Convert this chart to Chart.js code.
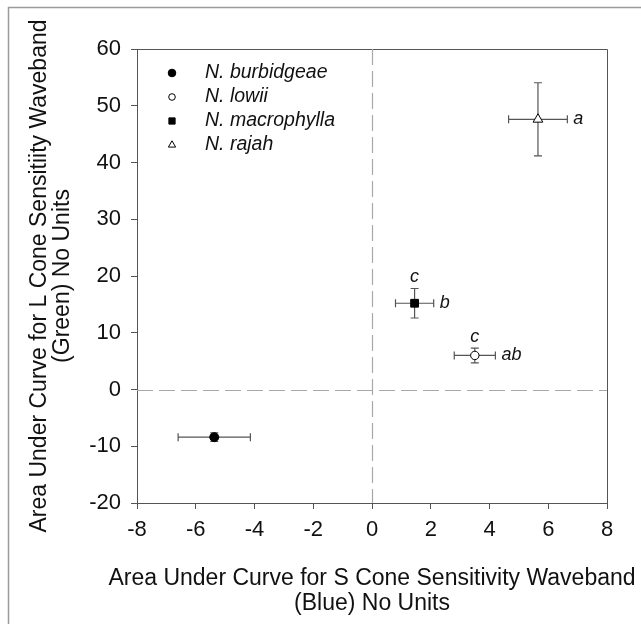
<!DOCTYPE html>
<html><head><meta charset="utf-8">
<script src="https://cdn.jsdelivr.net/npm/chart.js@4/dist/chart.umd.min.js"></script>
<style>html,body{margin:0;padding:0;background:#fff;overflow:hidden}#wrap{width:641px;height:624px;position:relative}canvas{display:block}</style>
</head><body><div id="wrap"><canvas id="c" width="641" height="624"></canvas></div>
<script>
// ---- data ----
const species = ['N. burbidgeae', 'N. lowii', 'N. macrophylla', 'N. rajah'];
const sValues = [-5.37, 3.5, 1.45, 5.65];   // x: S cone (blue) area
const lValues = [-8.4, 6.0, 15.2, 47.6];    // y: L cone (green) area
const sErr = [1.23, 0.7, 0.65, 1.0];
const lErr = [0.74, 1.3, 2.6, 6.45];
const rightLetters = ['', 'ab', 'b', 'a'];
const topLetters = ['', 'c', 'c', ''];
const xTicks = [-8, -6, -4, -2, 0, 2, 4, 6, 8];
const yTicks = [-20, -10, 0, 10, 20, 30, 40, 50, 60];
const xTitle = ['Area Under Curve for S Cone Sensitivity Waveband', '(Blue) No Units'];
const yTitle = ['Area Under Curve for L Cone Sensitiity Waveband', '(Green) No Units'];

// ---- styles ----
const FONT = '"Liberation Sans", Arial, Helvetica, sans-serif';
const markerStyle = ['circle', 'circle', 'rect', 'triangle'];
const markerRadius = [4.5, 4.2, 5.5, 5.6];
const markerFill = ['#000', '#fff', '#000', '#fff'];
const legendRadius = [3.8, 3.3, 4.4, 4.2];

function drawMarker(ctx, style, r, x, y, fill) {
  ctx.save();
  ctx.fillStyle = fill; ctx.strokeStyle = '#000'; ctx.lineWidth = 1;
  ctx.beginPath();
  if (style === 'circle') {
    ctx.arc(x, y, r, 0, Math.PI * 2);
  } else if (style === 'rect') {
    const s = Math.SQRT1_2 * r;
    ctx.rect(x - s, y - s, 2 * s, 2 * s);
  } else {
    ctx.moveTo(x, y - r);
    ctx.lineTo(x + r * Math.cos(Math.PI / 6), y + r / 2);
    ctx.lineTo(x - r * Math.cos(Math.PI / 6), y + r / 2);
    ctx.closePath();
  }
  ctx.fill(); ctx.stroke();
  ctx.restore();
}

const decor = {
  id: 'decor',
  beforeDraw(chart) {
    const ctx = chart.ctx;
    ctx.save();
    ctx.fillStyle = '#fff';
    ctx.fillRect(0, 0, chart.width, chart.height);
    ctx.strokeStyle = '#9a9a9a'; ctx.lineWidth = 1.5;
    ctx.beginPath();
    ctx.moveTo(8.5, chart.height); ctx.lineTo(8.5, 7.5); ctx.lineTo(chart.width, 7.5);
    ctx.stroke();
    ctx.restore();
  },
  beforeDatasetsDraw(chart) {
    const ctx = chart.ctx, xs = chart.scales.x, ys = chart.scales.y, a = chart.chartArea;
    ctx.save();
    // frame top/right
    ctx.strokeStyle = '#555'; ctx.lineWidth = 1;
    ctx.beginPath();
    ctx.moveTo(a.left, a.top + 0.5); ctx.lineTo(a.right + 0.5, a.top + 0.5); ctx.lineTo(a.right + 0.5, a.bottom);
    ctx.stroke();
    // zero lines
    ctx.strokeStyle = '#a8a8a8'; ctx.lineWidth = 1.2; ctx.setLineDash([16, 6]);
    const x0 = Math.round(xs.getPixelForValue(0)) + 0.5, y0 = Math.round(ys.getPixelForValue(0)) + 0.5;
    ctx.beginPath(); ctx.moveTo(x0, a.top); ctx.lineTo(x0, a.bottom); ctx.stroke();
    ctx.beginPath(); ctx.moveTo(a.left, y0); ctx.lineTo(a.right, y0); ctx.stroke();
    ctx.setLineDash([]);
    // error bars
    ctx.strokeStyle = '#555'; ctx.lineWidth = 1.2;
    const cap = 4;
    for (let i = 0; i < species.length; i++) {
      const px = xs.getPixelForValue(sValues[i]), py = ys.getPixelForValue(lValues[i]);
      const xl = xs.getPixelForValue(sValues[i] - sErr[i]), xr = xs.getPixelForValue(sValues[i] + sErr[i]);
      const yt = ys.getPixelForValue(lValues[i] + lErr[i]), yb = ys.getPixelForValue(lValues[i] - lErr[i]);
      ctx.beginPath();
      ctx.moveTo(xl, py); ctx.lineTo(xr, py);
      ctx.moveTo(xl, py - cap); ctx.lineTo(xl, py + cap);
      ctx.moveTo(xr, py - cap); ctx.lineTo(xr, py + cap);
      ctx.moveTo(px, yt); ctx.lineTo(px, yb);
      ctx.moveTo(px - cap, yt); ctx.lineTo(px + cap, yt);
      ctx.moveTo(px - cap, yb); ctx.lineTo(px + cap, yb);
      ctx.stroke();
    }
    ctx.restore();
  },
  afterDraw(chart) {
    const ctx = chart.ctx, xs = chart.scales.x, ys = chart.scales.y, a = chart.chartArea;
    ctx.save();
    ctx.fillStyle = '#111';
    // letters
    ctx.font = 'italic 18px ' + FONT;
    for (let i = 0; i < species.length; i++) {
      const px = xs.getPixelForValue(sValues[i]), py = ys.getPixelForValue(lValues[i]);
      if (rightLetters[i]) {
        ctx.textAlign = 'left'; ctx.textBaseline = 'middle';
        ctx.fillText(rightLetters[i], xs.getPixelForValue(sValues[i] + sErr[i]) + 6, py);
      }
      if (topLetters[i]) {
        ctx.textAlign = 'center'; ctx.textBaseline = 'alphabetic';
        ctx.fillText(topLetters[i], px, ys.getPixelForValue(lValues[i] + lErr[i]) - 6);
      }
    }
    // legend
    ctx.font = 'italic 19.5px ' + FONT;
    ctx.textAlign = 'left'; ctx.textBaseline = 'middle';
    for (let i = 0; i < species.length; i++) {
      const ly = a.top + 24 + 24 * i;
      drawMarker(ctx, markerStyle[i], legendRadius[i], a.left + 35, ly, markerFill[i]);
      ctx.fillStyle = '#111';
      ctx.fillText(species[i], a.left + 68, ly);
    }
    // axis titles
    ctx.font = '23px ' + FONT;
    ctx.textAlign = 'center'; ctx.textBaseline = 'middle';
    const cx = (a.left + a.right) / 2;
    ctx.fillText(xTitle[0], cx, 579);
    ctx.fillText(xTitle[1], cx, 604);
    const cy = (a.top + a.bottom) / 2;
    ctx.translate(40, cy); ctx.rotate(-Math.PI / 2);
    ctx.fillText(yTitle[0], 0, 0);
    ctx.fillText(yTitle[1], 0, 23);
    ctx.restore();
  }
};

const datasets = species.map((s, i) => ({
  label: s,
  data: [{ x: sValues[i], y: lValues[i] }],
  pointStyle: markerStyle[i],
  pointRadius: markerRadius[i],
  pointHoverRadius: markerRadius[i],
  backgroundColor: markerFill[i],
  borderColor: '#000',
  borderWidth: 1
}));

new Chart(document.getElementById('c'), {
  type: 'scatter',
  data: { datasets },
  options: {
    responsive: false,
    devicePixelRatio: 1,
    animation: false,
    events: [],
    layout: { padding: { left: 0, top: 49, right: 34, bottom: 0 } },
    plugins: { legend: { display: false }, tooltip: { enabled: false } },
    scales: {
      x: {
        type: 'linear', min: -8, max: 8,
        afterBuildTicks(s) { s.ticks = xTicks.map(v => ({ value: v })); },
        afterFit(s) { s.height = 121; },
        ticks: { font: { family: FONT, size: 22 }, color: '#111', padding: 8 },
        grid: { drawOnChartArea: false, tickLength: 6, tickColor: '#555', tickWidth: 1 },
        border: { color: '#555', width: 1 }
      },
      y: {
        type: 'linear', min: -20, max: 60,
        afterBuildTicks(s) { s.ticks = yTicks.map(v => ({ value: v })); },
        afterFit(s) { s.width = 137; },
        ticks: { font: { family: FONT, size: 22 }, color: '#111', padding: 10 },
        grid: { drawOnChartArea: false, tickLength: 6, tickColor: '#555', tickWidth: 1 },
        border: { color: '#555', width: 1 }
      }
    }
  },
  plugins: [decor]
});
</script>
</body></html>
